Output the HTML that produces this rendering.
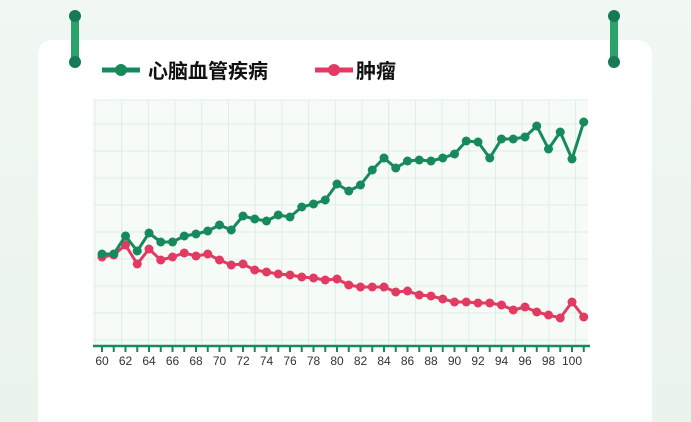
<!DOCTYPE html>
<html><head><meta charset="utf-8"><style>
html,body{margin:0;width:691px;height:422px;overflow:hidden;background:linear-gradient(#f1f7f2,#eaf3ec);font-family:"Liberation Sans","Noto Sans CJK SC",sans-serif}
svg{display:block}
</style></head><body>
<svg width="691" height="422" xmlns="http://www.w3.org/2000/svg">
<path d="M38 422 V56 Q38 40 54 40 H636 Q652 40 652 56 V422 Z" fill="#fff"/>
<g>
<line x1="75" y1="16" x2="75" y2="62" stroke="#2aa36a" stroke-width="8" stroke-linecap="round"/>
<circle cx="75" cy="16" r="6" fill="#157a55"/><circle cx="75" cy="62" r="6" fill="#157a55"/>
<line x1="614" y1="16" x2="614" y2="62" stroke="#2aa36a" stroke-width="8" stroke-linecap="round"/>
<circle cx="614" cy="16" r="6" fill="#157a55"/><circle cx="614" cy="62" r="6" fill="#157a55"/>
</g>
<line x1="102" y1="70" x2="140" y2="70" stroke="#178a5c" stroke-width="5"/>
<circle cx="121" cy="70" r="6" fill="#178a5c"/>
<text x="148" y="78" font-size="20" font-weight="bold" fill="#111">心脑血管疾病</text>
<line x1="315" y1="70" x2="353" y2="70" stroke="#e23b62" stroke-width="5"/>
<circle cx="334" cy="70" r="6" fill="#e23b62"/>
<text x="356" y="78" font-size="20" font-weight="bold" fill="#111">肿瘤</text>
<rect x="93" y="100" width="495" height="246" fill="#f6fbf8"/>
<g id="grid" stroke="#dcefe4" stroke-width="1"></g>
<g id="ax"></g>
<g id="s"></g>
</svg>
<script>
const ns="http://www.w3.org/2000/svg";
function el(t,a,p){const e=document.createElementNS(ns,t);for(const k in a)e.setAttribute(k,a[k]);if(p)p.appendChild(e);return e}
const g=document.getElementById('grid');
for(let x=95;x<=588;x+=26.7)el('line',{x1:x,y1:100,x2:x,y2:346},g);
for(let y=124;y<346;y+=27)el('line',{x1:93,y1:y,x2:588,y2:y},g);
el('line',{x1:93,y1:100,x2:588,y2:100},g);
const ax=document.getElementById('ax');
el('line',{x1:93,y1:346,x2:590,y2:346,stroke:'#178a5c','stroke-width':2.5},ax);
const X=y=>102+(y-60)*11.75;
for(let y=60;y<=101;y++){el('line',{x1:X(y),y1:346,x2:X(y),y2:352,stroke:'#178a5c','stroke-width':2},ax);
if(y%2==0){const t=el('text',{x:X(y),y:365,'font-size':12,'text-anchor':'middle',fill:'#333'},ax);t.textContent=y;}}
const G=[254,254,236,251,233,242,242,236,234,231,225,230,216,219,221,215,217,207,204,200,184,191,185,170,158,168,161,160,161,158,154,141,142,158,139,139,137,126,149,132,159,122];
const R=[257,255,245,264,249,260,257,253,256,254,260,265,264,270,272,274,275,277,278,280,279,285,287,287,287,292,291,295,296,299,302,302,303,303,305,310,307,312,315,318,302,317];
const s=document.getElementById('s');
function draw(d,c){el('polyline',{points:d.map((v,i)=>X(60+i)+','+v).join(' '),fill:'none',stroke:c,'stroke-width':3,'stroke-linejoin':'round'},s);
d.forEach((v,i)=>el('circle',{cx:X(60+i),cy:v,r:4.5,fill:c},s));}
draw(R,'#e23b62');draw(G,'#178a5c');
</script>
</body></html>
